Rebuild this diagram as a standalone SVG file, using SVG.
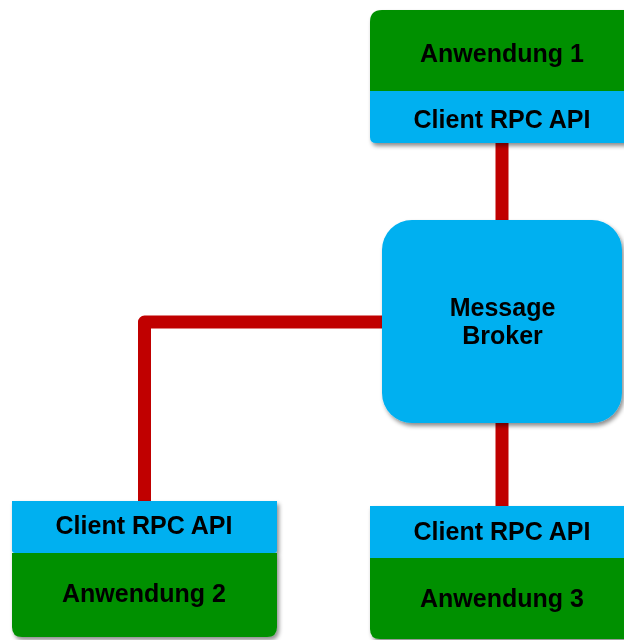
<svg xmlns="http://www.w3.org/2000/svg" width="624" height="640" viewBox="0 0 624 640">
<defs>
<filter id="sh" x="-20%" y="-20%" width="140%" height="140%">
<feGaussianBlur in="SourceAlpha" stdDeviation="2"/>
<feOffset dx="2" dy="3" result="b"/>
<feFlood flood-color="#000" flood-opacity="0.45"/>
<feComposite in2="b" operator="in"/>
<feMerge><feMergeNode/><feMergeNode in="SourceGraphic"/></feMerge>
</filter>
</defs>
<style>
.g{fill:#009000}
.b{fill:#00B0F0}
.t{font-family:"Liberation Sans",Arial,sans-serif;font-weight:bold;font-size:25px;fill:#000;text-anchor:middle}
.c{fill:none;stroke:#C00000;stroke-width:13;stroke-linejoin:round}
</style>
<g id="connectors">
<path class="c" d="M502 140 V224"/>
<path class="c" d="M502 420 V510"/>
<path class="c" d="M386 322 H144.5 V504"/>
</g>
<g id="anwendung1" filter="url(#sh)">
<path class="g" d="M370 22 Q370 10 382 10 H640 V91 H370 Z"/>
<path class="b" d="M370 91 H640 V143 H376 Q370 143 370 137 Z"/>
<text class="t" x="502" y="62">Anwendung 1</text>
<text class="t" x="502" y="128">Client RPC API</text>
</g>
<g id="broker" filter="url(#sh)">
<rect class="b" x="382" y="220" width="240" height="203" rx="30" ry="30"/>
<text class="t" x="502.5" y="316">Message</text>
<text class="t" x="502.5" y="344">Broker</text>
</g>
<g id="anwendung2" filter="url(#sh)">
<path class="g" d="M12 553 H277 V627 Q277 637 267 637 H22 Q12 637 12 627 Z"/>
<path class="b" d="M12 501 H277 V550 Q277 553 274 553 H15 Q12 553 12 550 Z"/>
<text class="t" x="144" y="534">Client RPC API</text>
<text class="t" x="144" y="602">Anwendung 2</text>
</g>
<g id="anwendung3" filter="url(#sh)">
<path class="g" d="M370 558 H640 V639 H380 Q370 639 370 629 Z"/>
<path class="b" d="M370 506 H640 V558 H370 Z"/>
<text class="t" x="502" y="540">Client RPC API</text>
<text class="t" x="502" y="607">Anwendung 3</text>
</g>
</svg>
